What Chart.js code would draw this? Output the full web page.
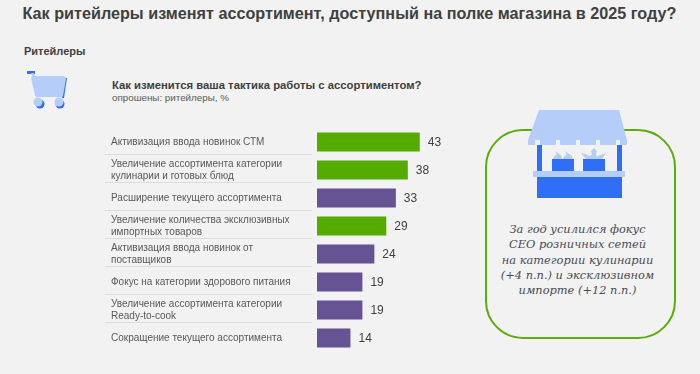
<!DOCTYPE html>
<html lang="ru">
<head>
<meta charset="utf-8">
<script src="https://cdn.jsdelivr.net/npm/chart.js@4"></script>
<style>
  html, body { margin: 0; padding: 0; width: 700px; height: 374px; overflow: hidden; background: #f2f2f2; }
  body { position: relative; font-family: "Liberation Sans", Arial, sans-serif; color: #404040; }
  .abs { position: absolute; white-space: nowrap; }
  #title { left: 22.5px; top: 1px; font-size: 16.2px; font-weight: 700; line-height: 25px; }
  #group { left: 24px; top: 44px; font-size: 11px; font-weight: 700; line-height: 14px; }
  #question { left: 112px; top: 78px; font-size: 11.3px; font-weight: 700; line-height: 14px; }
  #sub { left: 112px; top: 91px; font-size: 9.8px; color: #595959; line-height: 13px; }
  #box { left: 485px; top: 129px; width: 187px; height: 206px; border: 2px solid #5aad0a; border-radius: 38px; }
  #note { left: 482px; width: 191px; top: 222px; text-align: center; font-family: "DejaVu Serif", serif; font-style: italic; font-size: 11.4px; line-height: 15.3px; color: #4a4a55; }
  #cart, #stall { position: absolute; left: 0; top: 0; }
  #chart { position: absolute; left: 100px; top: 119px; }
</style>
</head>
<body>
<div class="abs" id="title">Как ритейлеры изменят ассортимент, доступный на полке магазина в 2025 году?</div>
<div class="abs" id="group">Ритейлеры</div>
<div class="abs" id="question">Как изменится ваша тактика работы с ассортиментом?</div>
<div class="abs" id="sub">опрошены: ритейлеры, %</div>

<svg id="cart" width="90" height="120">
  <path d="M27 71h8v3h-8z" fill="#2f6ff5"/>
  <path d="M31 73h3l1 3h-3z" fill="#b5cdf9"/>
  <path d="M64 78h3l-3 20h-2z" fill="#2f6ff5"/>
  <path d="M33 76h30q3 0 3 3l-3 17q0 1-2 1H37q-2 0-2-2l-4-17q0-2 2-2z" fill="#b5cdf9"/>
  <circle cx="40" cy="104" r="4.5" fill="#2f6ff5"/>
  <circle cx="60" cy="104" r="4.5" fill="#2f6ff5"/>
  <circle cx="38" cy="102" r="4.5" fill="#b5cdf9"/>
  <circle cx="59" cy="102" r="4.5" fill="#b5cdf9"/>
</svg>

<div class="abs" id="box"></div>

<svg id="stall" width="700" height="374" style="pointer-events:none">
  <path d="M537 145h5v26h-5zM617 145h5v26h-5z" fill="#2f6ff5"/>
  <path d="M552 159h22v12h-22zM583 159h22v12h-22z" fill="#2f6ff5"/>
  <path d="M537 177h85v21h-85z" fill="#2f6ff5"/>
  <path d="M533 171h92v6h-92z" fill="#b5cdf9"/>
  <path d="M539 110h80l8 30v4q0 1-1 1h-5q-1 0-1-1v-4h-4v4q0 1-1 1h-14q-1 0-1-1v-4h-4v4q0 1-1 1h-14q-1 0-1-1v-4h-4v4q0 1-1 1h-14q-1 0-1-1v-4h-4v4q0 1-1 1h-14q-1 0-1-1v-4h-5v4q0 1-1 1h-5q-1 0-1-1v-4z" fill="#b5cdf9"/>
  <path d="M553 159q1-4 4-4l-2-4 4 3q3 1 3 5zM563 159q1-4 4-4l-2-4 4 3q3 1 4 5z" fill="#b5cdf9"/>
  <path d="M586 159l-5-6 5 1 2 2q1-1 2 0l2-2-1-3 3-3 3 3-1 3 1 3q3-3 4-2l5-2-4 6z" fill="#b5cdf9"/>
</svg>

<div class="abs" id="note">За год усилился фокус<br>CEO розничных сетей<br>на категории кулинарии<br>(+4 п.п.) и эксклюзивном<br>импорте (+12 п.п.)</div>

<canvas id="chart" width="360" height="242"></canvas>

<script>
const categories = [
  'Активизация ввода новинок СТМ',
  ['Увеличение ассортимента категории', 'кулинарии и готовых блюд'],
  'Расширение текущего ассортимента',
  ['Увеличение количества эксклюзивных', 'импортных товаров'],
  ['Активизация ввода новинок от', 'поставщиков'],
  'Фокус на категории здорового питания',
  ['Увеличение ассортимента категории', 'Ready-to-cook'],
  'Сокращение текущего ассортимента'
];
const values = [43, 38, 33, 29, 24, 19, 19, 14];
const barColors = ['#56ab00', '#56ab00', '#655393', '#56ab00', '#655393', '#655393', '#655393', '#655393'];

// separators between rows, they reach left past the label column
const separators = {
  id: 'separators',
  beforeDatasetsDraw(chart) {
    const y = chart.scales.y, c = chart.ctx;
    c.save();
    c.strokeStyle = '#dcdcdc';
    c.lineWidth = 1;
    for (let i = 0; i < values.length - 1; i++) {
      const py = Math.round((y.getPixelForTick(i) + y.getPixelForTick(i + 1)) / 2 - 2) + 0.5;
      c.beginPath();
      c.moveTo(5, py);
      c.lineTo(212, py);
      c.stroke();
    }
    c.restore();
  }
};

// value labels to the right of each bar
const barValues = {
  id: 'barValues',
  afterDatasetsDraw(chart) {
    const c = chart.ctx;
    c.save();
    c.font = '12px "Liberation Sans"';
    c.fillStyle = '#404040';
    c.textBaseline = 'middle';
    chart.getDatasetMeta(0).data.forEach((bar, i) => {
      c.fillText(values[i], bar.x + 8, bar.y + 1);
    });
    c.restore();
  }
};

new Chart(document.getElementById('chart'), {
  type: 'bar',
  data: {
    labels: categories,
    datasets: [{
      data: values,
      backgroundColor: barColors,
      barPercentage: 0.68,
      categoryPercentage: 1
    }]
  },
  options: {
    indexAxis: 'y',
    responsive: false,
    animation: false,
    layout: { padding: { left: 11, right: 23.5, top: 0, bottom: 0 } },
    plugins: { legend: { display: false }, tooltip: { enabled: false } },
    scales: {
      x: { display: false, min: 0, max: 50 },
      y: {
        afterFit(scale) { scale.width = 206; },
        border: { display: false },
        grid: { display: false },
        ticks: {
          autoSkip: false,
          crossAlign: 'far',
          color: '#595959',
          font: { family: '"Liberation Sans"', size: 10, lineHeight: 1.2 }
        }
      }
    }
  },
  plugins: [separators, barValues]
});
</script>
</body>
</html>
